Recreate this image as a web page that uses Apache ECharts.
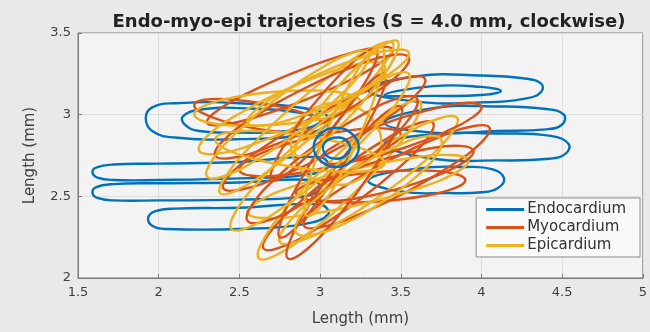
<!DOCTYPE html>
<html>
<head>
<meta charset="utf-8">
<script src="https://cdn.jsdelivr.net/npm/echarts@6/dist/echarts.min.js"></script>
<style>html,body{margin:0;padding:0;background:#e8e9e8;}#c{width:650px;height:332px;}</style>
</head>
<body>
<div id="c"></div>
<script>
var seriesNames = ['Endocardium', 'Myocardium', 'Epicardium'];
var xTicks = [1.5, 2, 2.5, 3, 3.5, 4, 4.5, 5];
var yTicks = [2, 2.5, 3, 3.5];

// Endocardium loops (x, y in mm); each loop is closed
var endoLoops = [
  [[3.0,2.74],[2.5,2.71],[2.0,2.70],[1.72,2.695],[1.61,2.675],[1.59,2.645],[1.62,2.615],[1.72,2.60],[2.0,2.60],[2.5,2.61],[2.9,2.63],[3.05,2.68]],
  [[2.95,2.6],[2.5,2.585],[2.0,2.58],[1.72,2.575],[1.61,2.555],[1.59,2.52],[1.62,2.49],[1.72,2.475],[2.0,2.475],[2.5,2.48],[2.9,2.5],[3.0,2.55]],
  [[3.0,2.45],[2.5,2.43],[2.1,2.425],[1.98,2.41],[1.935,2.37],[1.96,2.32],[2.05,2.30],[2.5,2.30],[2.9,2.33],[3.05,2.39]],
  [[3.0,3.02],[2.5,3.07],[2.1,3.07],[1.96,3.045],[1.92,2.98],[1.96,2.90],[2.1,2.86],[2.5,2.85],[2.9,2.88],[3.05,2.95]],
  [[2.95,3.0],[2.5,3.04],[2.25,3.03],[2.15,2.99],[2.16,2.94],[2.25,2.90],[2.5,2.89],[2.8,2.9],[3.0,2.95]],
  [[3.3,3.15],[3.6,3.235],[4.0,3.24],[4.28,3.22],[4.37,3.19],[4.37,3.14],[4.28,3.10],[4.0,3.075],[3.6,3.08]],
  [[3.4,3.12],[3.7,3.175],[4.0,3.17],[4.12,3.145],[4.0,3.12],[3.7,3.115]],
  [[3.4,2.95],[3.7,3.04],[4.1,3.05],[4.4,3.035],[4.51,3.0],[4.5,2.94],[4.4,2.91],[4.1,2.9],[3.7,2.89]],
  [[3.4,2.82],[3.7,2.88],[4.1,2.885],[4.43,2.87],[4.54,2.82],[4.52,2.76],[4.42,2.73],[4.1,2.72],[3.7,2.73]],
  [[3.3,2.6],[3.6,2.67],[3.9,2.68],[4.07,2.665],[4.14,2.61],[4.1,2.55],[4.0,2.525],[3.8,2.52],[3.5,2.53]]
];
var endoCenterLoops = [
  [[3.1,2.92],[3.2,2.88],[3.24,2.8],[3.2,2.72],[3.1,2.68],[3.0,2.72],[2.96,2.8],[3.0,2.88]],
  [[3.12,2.86],[3.18,2.82],[3.17,2.76],[3.1,2.73],[3.03,2.76],[3.03,2.83]]
];

// Myocardium loops
var myoLoops = [
  [[2.842,3.259],[2.558,3.135],[2.36,3.022],[2.30,2.95],[2.394,2.938],[2.616,2.989],[2.908,3.091],[3.192,3.215],[3.39,3.328],[3.45,3.40],[3.356,3.412],[3.134,3.361]],
  [[2.648,3.069],[2.438,3.093],[2.283,3.091],[2.22,3.06],[2.269,3.011],[2.416,2.957],[2.622,2.911],[2.832,2.887],[2.987,2.889],[3.05,2.92],[3.001,2.969],[2.854,3.023]],
  [[2.968,2.991],[2.663,2.809],[2.456,2.648],[2.40,2.55],[2.512,2.542],[2.761,2.625],[3.082,2.779],[3.387,2.961],[3.594,3.122],[3.65,3.22],[3.538,3.228],[3.289,3.145]],
  [[3.11,2.654],[2.856,2.449],[2.687,2.277],[2.65,2.18],[2.753,2.187],[2.968,2.295],[3.24,2.476],[3.494,2.681],[3.663,2.853],[3.70,2.95],[3.597,2.943],[3.382,2.835]],
  [[3.424,2.718],[3.143,2.555],[2.951,2.409],[2.90,2.32],[3.003,2.311],[3.231,2.385],[3.526,2.522],[3.807,2.685],[3.999,2.831],[4.05,2.92],[3.947,2.929],[3.719,2.855]],
  [[3.368,2.65],[3.106,2.618],[2.916,2.57],[2.85,2.52],[2.924,2.48],[3.118,2.462],[3.382,2.47],[3.644,2.502],[3.834,2.55],[3.90,2.60],[3.826,2.64],[3.632,2.658]],
  [[2.978,2.868],[2.731,2.80],[2.556,2.724],[2.50,2.66],[2.578,2.626],[2.769,2.63],[3.022,2.672],[3.269,2.74],[3.444,2.816],[3.50,2.88],[3.422,2.914],[3.231,2.91]]
];
var myoLoops2 = [
  [[3.07,2.645],[2.906,2.404],[2.807,2.212],[2.80,2.12],[2.887,2.152],[3.044,2.30],[3.23,2.525],[3.394,2.766],[3.493,2.958],[3.50,3.05],[3.413,3.018],[3.256,2.87]],
  [[3.472,2.971],[3.226,2.876],[3.053,2.785],[3.00,2.72],[3.081,2.699],[3.274,2.728],[3.528,2.799],[3.774,2.894],[3.947,2.985],[4.00,3.05],[3.919,3.071],[3.726,3.042]],
  [[2.955,3.057],[2.801,2.849],[2.709,2.682],[2.70,2.60],[2.779,2.626],[2.923,2.751],[3.095,2.943],[3.249,3.151],[3.341,3.318],[3.35,3.40],[3.271,3.374],[3.127,3.249]],
  [[2.896,3.157],[2.603,2.993],[2.403,2.844],[2.35,2.75],[2.457,2.736],[2.697,2.807],[3.004,2.943],[3.297,3.107],[3.497,3.256],[3.55,3.35],[3.443,3.364],[3.203,3.293]],
  [[2.999,2.831],[2.746,2.629],[2.582,2.453],[2.55,2.35],[2.658,2.347],[2.878,2.445],[3.151,2.619],[3.404,2.821],[3.568,2.997],[3.60,3.10],[3.492,3.103],[3.272,3.005]],
  [[3.423,2.736],[3.177,2.653],[3.003,2.567],[2.95,2.50],[3.031,2.471],[3.223,2.487],[3.477,2.544],[3.723,2.627],[3.897,2.713],[3.95,2.78],[3.869,2.809],[3.677,2.793]],
  [[3.0,2.799],[2.847,2.542],[2.756,2.342],[2.75,2.25],[2.832,2.292],[2.977,2.458],[3.15,2.701],[3.303,2.958],[3.394,3.158],[3.40,3.25],[3.318,3.208],[3.173,3.042]]
];

// Epicardium loops
var epiLoops = [
  [[2.843,3.063],[2.585,2.822],[2.416,2.624],[2.38,2.52],[2.488,2.54],[2.709,2.678],[2.987,2.897],[3.245,3.138],[3.414,3.336],[3.45,3.44],[3.342,3.42],[3.121,3.282]],
  [[2.776,3.149],[2.495,3.004],[2.302,2.87],[2.25,2.78],[2.352,2.76],[2.579,2.816],[2.874,2.931],[3.155,3.076],[3.348,3.21],[3.40,3.30],[3.298,3.32],[3.071,3.264]],
  [[2.727,3.14],[2.47,3.107],[2.285,3.055],[2.22,3.00],[2.293,2.955],[2.484,2.933],[2.743,2.94],[3.00,2.973],[3.185,3.025],[3.25,3.08],[3.177,3.125],[2.986,3.147]],
  [[3.037,2.687],[2.798,2.435],[2.645,2.227],[2.62,2.12],[2.729,2.141],[2.942,2.285],[3.203,2.513],[3.442,2.765],[3.595,2.973],[3.62,3.08],[3.511,3.059],[3.298,2.915]],
  [[3.232,2.699],[2.966,2.496],[2.79,2.32],[2.75,2.22],[2.858,2.222],[3.084,2.324],[3.368,2.501],[3.634,2.704],[3.81,2.88],[3.85,2.98],[3.742,2.978],[3.516,2.876]],
  [[3.21,2.667],[2.87,2.573],[2.629,2.475],[2.55,2.40],[2.655,2.367],[2.914,2.387],[3.26,2.453],[3.60,2.547],[3.841,2.645],[3.92,2.72],[3.815,2.753],[3.556,2.733]],
  [[3.1,3.07],[2.96,3.037],[2.858,2.945],[2.82,2.82],[2.858,2.695],[2.96,2.603],[3.1,2.57],[3.24,2.603],[3.342,2.695],[3.38,2.82],[3.342,2.945],[3.24,3.037]]
];
var epiLoops2 = [
  [[3.059,2.94],[2.956,2.675],[2.905,2.47],[2.92,2.38],[2.997,2.43],[3.114,2.605],[3.241,2.86],[3.344,3.125],[3.395,3.33],[3.38,3.42],[3.303,3.37],[3.186,3.195]],
  [[2.889,2.874],[2.624,2.899],[2.427,2.89],[2.35,2.85],[2.413,2.79],[2.60,2.727],[2.861,2.676],[3.126,2.651],[3.323,2.66],[3.40,2.70],[3.337,2.76],[3.15,2.823]],
  [[3.098,3.16],[2.949,2.977],[2.858,2.827],[2.85,2.75],[2.926,2.767],[3.065,2.873],[3.232,3.04],[3.381,3.223],[3.472,3.373],[3.48,3.45],[3.404,3.433],[3.265,3.327]],
  [[2.915,2.873],[2.651,2.622],[2.481,2.413],[2.45,2.30],[2.567,2.315],[2.799,2.452],[3.085,2.677],[3.349,2.928],[3.519,3.137],[3.55,3.25],[3.433,3.235],[3.201,3.098]],
  [[2.727,3.096],[2.487,2.893],[2.33,2.719],[2.30,2.62],[2.404,2.623],[2.613,2.727],[2.873,2.904],[3.113,3.107],[3.27,3.281],[3.30,3.38],[3.196,3.377],[2.987,3.273]],
  [[3.23,2.675],[3.014,2.517],[2.875,2.373],[2.85,2.28],[2.945,2.263],[3.136,2.327],[3.37,2.455],[3.586,2.613],[3.725,2.757],[3.75,2.85],[3.655,2.867],[3.464,2.803]],
  [[3.01,3.257],[2.765,3.137],[2.597,3.025],[2.55,2.95],[2.637,2.933],[2.835,2.977],[3.09,3.073],[3.335,3.193],[3.503,3.305],[3.55,3.38],[3.463,3.397],[3.265,3.353]]
];

var colors = ['#0072BD', '#D95319', '#EDB120'];

// One custom series per group: each data item is the index of a closed loop,
// drawn as a smooth closed curve through the library's coordinate system.
function loopSeries(name, color, loops) {
  return {
    name: name, type: 'custom', coordinateSystem: 'cartesian2d', silent: true,
    itemStyle: { color: color },
    data: loops.map(function (_, i) { return [i]; }),
    encode: { x: -1, y: -1 },
    renderItem: function (params, api) {
      var pts = loops[params.dataIndex].map(function (p) { return api.coord(p); });
      return {
        type: 'polygon',
        shape: { points: pts, smooth: 0.45 },
        style: { fill: 'none', stroke: color, lineWidth: 2.4 }
      };
    }
  };
}

var series = [
  loopSeries(seriesNames[0], colors[0], endoLoops),
  loopSeries(seriesNames[1], colors[1], myoLoops),
  loopSeries(seriesNames[2], colors[2], epiLoops),
  loopSeries(seriesNames[1], colors[1], myoLoops2),
  loopSeries(seriesNames[2], colors[2], epiLoops2),
  loopSeries(seriesNames[0], colors[0], endoCenterLoops)
];

var chart = echarts.init(document.getElementById('c'), null, { renderer: 'canvas' });
var fam = 'DejaVu Sans';
var axisFont = { color: '#404040', fontSize: 13, fontFamily: fam };
chart.setOption({
  backgroundColor: '#e8e9e8',
  animation: false,
  title: {
    text: 'Endo-myo-epi trajectories (S = 4.0 mm, clockwise)',
    left: 364, textAlign: 'center', top: 8,
    textStyle: { fontSize: 18, fontWeight: 'bold', color: '#222', fontFamily: fam }
  },
  legend: {
    data: seriesNames, orient: 'vertical', right: 10, top: 198,
    icon: 'rect', itemWidth: 38, itemHeight: 3, itemGap: 3,
    backgroundColor: '#f9f9f9', borderColor: '#8a8a8a', borderWidth: 1,
    padding: [4, 14, 4, 10],
    textStyle: { fontSize: 15, lineHeight: 15, color: '#333', fontFamily: fam, padding: [0, 0, 0, -2] }
  },
  grid: {
    left: 78, right: 6, top: 33, bottom: 54, show: true,
    backgroundColor: '#f3f3f3', borderColor: '#7a7a7a', borderWidth: 1
  },
  xAxis: {
    type: 'value', min: xTicks[0], max: xTicks[xTicks.length - 1], interval: 0.5,
    name: 'Length (mm)', nameLocation: 'middle', nameGap: 34,
    nameTextStyle: { color: '#404040', fontSize: 15, fontFamily: fam },
    axisLine: { show: true, lineStyle: { color: '#7a7a7a' } },
    axisTick: { show: true, inside: true, length: 4, lineStyle: { color: '#7a7a7a' } },
    axisLabel: Object.assign({ margin: 8 }, axisFont),
    splitLine: { show: true, lineStyle: { color: '#dedede', width: 1 } }
  },
  yAxis: {
    type: 'value', min: yTicks[0], max: yTicks[yTicks.length - 1], interval: 0.5,
    name: 'Length (mm)', nameLocation: 'middle', nameGap: 40,
    nameTextStyle: { color: '#404040', fontSize: 15, fontFamily: fam },
    axisLine: { show: true, lineStyle: { color: '#7a7a7a' } },
    axisTick: { show: true, inside: true, length: 4, lineStyle: { color: '#7a7a7a' } },
    axisLabel: Object.assign({ margin: 7 }, axisFont),
    splitLine: { show: true, lineStyle: { color: '#dedede', width: 1 } }
  },
  series: series
});
</script>
</body>
</html>
